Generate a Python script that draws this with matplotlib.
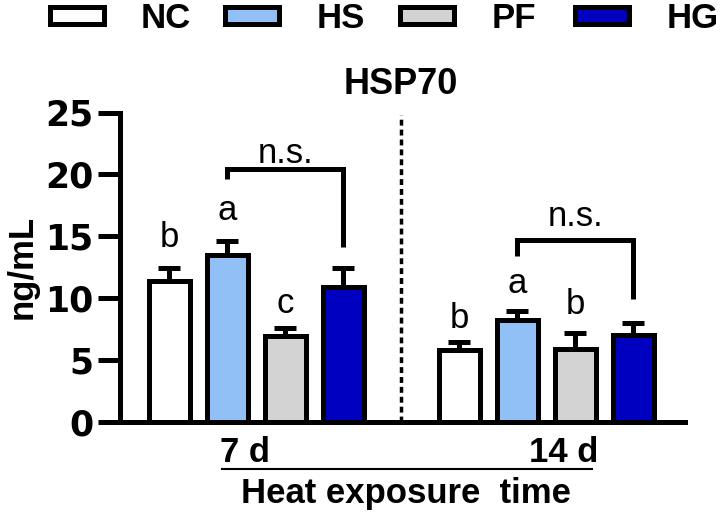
import matplotlib
matplotlib.use('Agg')
import matplotlib.pyplot as plt
from matplotlib.patches import Rectangle
from matplotlib.lines import Line2D

plt.rcParams['font.family'] = ['Liberation Sans', 'DejaVu Sans']

# ---------------- data ----------------
groups = ['7 d', '14 d']
series = ['NC', 'HS', 'PF', 'HG']
colors = ['#FFFFFF', '#90C0F6', '#D3D3D3', '#0000C0']

nc_vals = [11.4, 5.8]
hs_vals = [13.5, 8.2]
pf_vals = [6.9, 5.9]
hg_vals = [10.9, 7.0]

nc_err = [1.0, 0.6]
hs_err = [1.1, 0.7]
pf_err = [0.7, 1.25]
hg_err = [1.5, 0.93]

letters_7d = ['b', 'a', 'c', '']
letters_14d = ['b', 'a', 'b', '']
letter_y_7d = [14.1, 16.3, 8.8, None]
letter_y_14d = [7.6, 10.4, 8.7, None]

bracket_label = 'n.s.'
bracket_top = [20.4, 14.7]
bracket_left_end = [19.6, 13.35]
bracket_right_end = [14.1, 9.9]
ns_y = [20.95, 15.8]

yticks = [0, 5, 10, 15, 20, 25]
title = 'HSP70'
ylabel = 'ng/mL'
xlabel = 'Heat exposure  time'

# ---------------- layout ----------------
W, H = 722, 514
fig = plt.figure(figsize=(W / 100, H / 100), dpi=100)


def fx(px):
    return px / W


def fy(py):
    return 1 - py / H


ax = fig.add_axes([fx(120), fy(421.5), 565 / W, 309 / H])

group_centers = [0, 5]
offsets = [-1.5, -0.5, 0.5, 1.5]
all_vals = [nc_vals, hs_vals, pf_vals, hg_vals]
all_errs = [nc_err, hs_err, pf_err, hg_err]

LW = 3.6
for i in range(4):
    xs = [g + offsets[i] for g in group_centers]
    ax.bar(xs, all_vals[i], width=0.71, color=colors[i], edgecolor='black',
           linewidth=LW, zorder=3)
    ax.errorbar(xs, all_vals[i], yerr=[[0] * len(xs), all_errs[i]], fmt='none',
                ecolor='black', elinewidth=LW, capsize=7.9, capthick=LW, zorder=2)

# significance letters
for gi, (lets, ly) in enumerate([(letters_7d, letter_y_7d), (letters_14d, letter_y_14d)]):
    for i, (l, y) in enumerate(zip(lets, ly)):
        if l and y is not None:
            ax.text(group_centers[gi] + offsets[i], y, l, ha='center', va='baseline',
                    fontsize=25, clip_on=False)

# brackets HS vs HG
for gi in range(2):
    xl = group_centers[gi] + offsets[1]
    xr = group_centers[gi] + offsets[3]
    ax.plot([xl, xl, xr, xr],
            [bracket_left_end[gi], bracket_top[gi], bracket_top[gi], bracket_right_end[gi]],
            color='black', lw=LW, solid_capstyle='butt', solid_joinstyle='miter',
            clip_on=False, zorder=4)
    ax.text((xl + xr) / 2, ns_y[gi], bracket_label, ha='center', va='baseline',
            fontsize=25, clip_on=False)

# dashed separator
sep = (group_centers[0] + group_centers[1]) / 2
ax.plot([sep, sep], [0, 24.8], color='black', lw=2.5, ls=(0, (1.7, 1.15)),
        clip_on=False, zorder=1)

ax.set_xlim(-2.35, 7.39)
ax.set_ylim(0, 25)
ax.set_yticks(yticks)
ax.set_xticks([])
for s in ['top', 'right']:
    ax.spines[s].set_visible(False)
for s in ['left', 'bottom']:
    ax.spines[s].set_linewidth(LW)
ax.tick_params(axis='y', length=15.8, width=LW, pad=3.6, labelsize=25)
for lbl in ax.get_yticklabels():
    lbl.set_fontfamily('DejaVu Sans')
    lbl.set_fontweight('bold')

# title and axis labels
fig.text(fx(401), fy(94), title, ha='center', va='baseline', fontsize=26, fontweight='bold')
fig.text(fx(22), fy(267), ylabel, rotation=90, ha='center', va='center',
         fontsize=25, fontweight='bold')
fig.text(fx(220), fy(462), groups[0], ha='left', va='baseline', fontsize=25, fontweight='bold')
fig.text(fx(598), fy(462), groups[1], ha='right', va='baseline', fontsize=25, fontweight='bold')
fig.add_artist(Line2D([fx(222), fx(592)], [fy(469), fy(469)], lw=1.5, color='black',
                      transform=fig.transFigure))
fig.text(fx(406), fy(503), xlabel, ha='center', va='baseline', fontsize=25, fontweight='bold')

# legend (manual, across the top)
pitch = 175.3
for i, (name, col) in enumerate(zip(series, colors)):
    x0 = 49.5 + i * pitch
    fig.add_artist(Rectangle((fx(x0), fy(23.5)), 54 / W, 17 / H, transform=fig.transFigure,
                             facecolor=col, edgecolor='black', lw=LW))
    fig.text(fx(141 + i * pitch), fy(28), name, ha='left', va='baseline',
             fontsize=25, fontweight='bold')

fig.savefig('out.png', dpi=100)
